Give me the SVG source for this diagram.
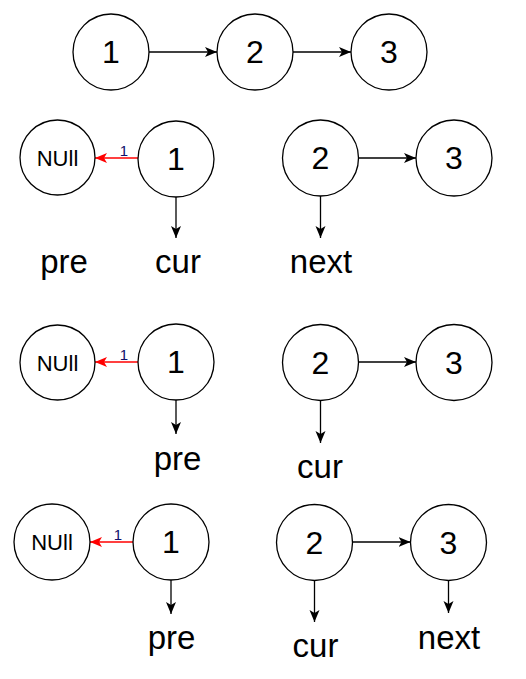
<svg xmlns="http://www.w3.org/2000/svg" width="526" height="679" viewBox="0 0 526 679">
<defs>
<marker id="ah" markerUnits="userSpaceOnUse" markerWidth="13" markerHeight="11" refX="12" refY="5" orient="auto">
<path d="M0,0 L12,5 L0,10 L3,5 Z" fill="#000"/>
</marker>
<marker id="ahr" markerUnits="userSpaceOnUse" markerWidth="13" markerHeight="11" refX="12" refY="5" orient="auto">
<path d="M0,0 L12,5 L0,10 L3,5 Z" fill="#ff0000"/>
</marker>
<style>
.n{fill:#fff;stroke:#000;stroke-width:1.3}
.d{font-family:"Liberation Sans",Arial,sans-serif;font-size:32px;text-anchor:middle;fill:#000}
.nl{font-family:"Liberation Sans",Arial,sans-serif;font-size:22px;text-anchor:middle;fill:#000}
.t{font-family:"Liberation Sans",Arial,sans-serif;font-size:33px;text-anchor:middle;fill:#000}
.s{font-family:"Liberation Sans",Arial,sans-serif;font-size:15px;text-anchor:middle;fill:#10106a}
.c{stroke:#000;stroke-width:1.3;fill:none;marker-end:url(#ah)}
.r{stroke:#ff0000;stroke-width:1.3;fill:none;marker-end:url(#ahr)}
</style>
</defs>
<rect width="526" height="679" fill="#fff"/>
<g id="connectors">
<line class="c" x1="149" y1="52" x2="217" y2="52"/>
<line class="c" x1="293" y1="52" x2="351" y2="52"/>
<line class="r" x1="138" y1="158" x2="95" y2="158"/>
<line class="c" x1="176" y1="197" x2="176" y2="238"/>
<line class="c" x1="358.5" y1="158" x2="416" y2="158"/>
<line class="c" x1="320.5" y1="196" x2="320.5" y2="238"/>
<line class="r" x1="138" y1="362" x2="95" y2="362"/>
<line class="c" x1="176" y1="400" x2="176" y2="434"/>
<line class="c" x1="358.5" y1="362" x2="416" y2="362"/>
<line class="c" x1="320.5" y1="400" x2="320.5" y2="443"/>
<line class="r" x1="133" y1="542" x2="90" y2="542"/>
<line class="c" x1="171" y1="580" x2="171" y2="614"/>
<line class="c" x1="352.5" y1="542" x2="410.5" y2="542"/>
<line class="c" x1="314.5" y1="580.5" x2="314.5" y2="622"/>
<line class="c" x1="448.5" y1="580.5" x2="448.5" y2="613"/>
<text class="s" x="124" y="156">1</text>
<text class="s" x="124" y="360">1</text>
<text class="s" x="118" y="540">1</text>
</g>
<g id="r1n1"><circle class="n" cx="111" cy="52" r="38"/><text class="d" x="111" y="63">1</text></g>
<g id="r1n2"><circle class="n" cx="255" cy="52" r="38"/><text class="d" x="255" y="63">2</text></g>
<g id="r1n3"><circle class="n" cx="389" cy="52" r="38"/><text class="d" x="389" y="63">3</text></g>

<g id="r2null"><circle class="n" cx="57.5" cy="157.5" r="37.5"/><text class="nl" x="57.5" y="165.5">NUll</text></g>
<g id="r2n1"><circle class="n" cx="176" cy="159" r="38"/><text class="d" x="176" y="170">1</text></g>
<g id="r2n2"><circle class="n" cx="320.5" cy="158" r="38"/><text class="d" x="320.5" y="169">2</text></g>
<g id="r2n3"><circle class="n" cx="454" cy="158" r="38"/><text class="d" x="454" y="169">3</text></g>
<g id="r2pre"><text class="t" x="64" y="273">pre</text></g>
<g id="r2cur"><text class="t" x="178" y="273">cur</text></g>
<g id="r2next"><text class="t" x="321" y="273">next</text></g>

<g id="r3null"><circle class="n" cx="57.5" cy="362.5" r="37.5"/><text class="nl" x="57.5" y="370.5">NUll</text></g>
<g id="r3n1"><circle class="n" cx="176" cy="362" r="38"/><text class="d" x="176" y="373">1</text></g>
<g id="r3n2"><circle class="n" cx="320.5" cy="362.5" r="38"/><text class="d" x="320.5" y="373.5">2</text></g>
<g id="r3n3"><circle class="n" cx="454" cy="362.5" r="38"/><text class="d" x="454" y="373.5">3</text></g>
<g id="r3pre"><text class="t" x="177.5" y="470">pre</text></g>
<g id="r3cur"><text class="t" x="320" y="478">cur</text></g>

<g id="r4null"><circle class="n" cx="52" cy="542" r="38"/><text class="nl" x="52" y="550">NUll</text></g>
<g id="r4n1"><circle class="n" cx="171" cy="542" r="38"/><text class="d" x="171" y="553">1</text></g>
<g id="r4n2"><circle class="n" cx="314.5" cy="542.5" r="38"/><text class="d" x="314.5" y="553.5">2</text></g>
<g id="r4n3"><circle class="n" cx="448.5" cy="542.5" r="38"/><text class="d" x="448.5" y="553.5">3</text></g>
<g id="r4pre"><text class="t" x="171.5" y="649">pre</text></g>
<g id="r4cur"><text class="t" x="315.5" y="657">cur</text></g>
<g id="r4next"><text class="t" x="449" y="649">next</text></g>
</svg>
